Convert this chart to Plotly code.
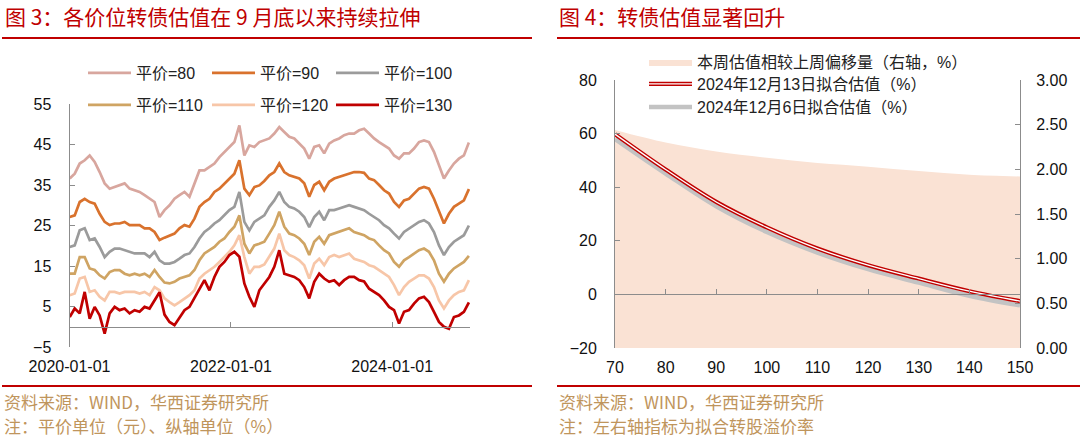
import plotly.graph_objects as go
import pandas as pd

W, H = 1080, 437

# ---------------- Left chart data (平价分档转股溢价率, %) ----------------
dates = pd.date_range("2020-01-02", "2024-12-13", periods=81)

p80 = [36.6, 37.8, 40.3, 41.1, 42.3, 40.7, 38.2, 35.4, 34.1, 34.5, 34.9, 35.4, 34.1, 33.7, 33.3, 32.5, 31.6, 30.8, 27.1,
       28.8,
       30.0, 31.6, 32.5, 33.3, 32.1, 35.4, 38.6, 38.6, 39.5, 40.3, 41.9, 43.2, 44.4, 45.6, 49.7, 42.3, 44.8, 44.4, 45.6,
       46.0,
       46.5, 47.7, 49.3, 48.1, 46.9, 46.5, 45.2, 44.0, 41.5, 44.4, 44.8, 42.8, 45.2, 46.0, 46.5, 47.3, 47.7, 47.7, 48.5,
       48.9,
       47.7, 46.5, 45.6, 44.8, 44.0, 42.3, 41.5, 42.8, 42.8, 44.0, 45.6, 46.0, 45.6, 43.2, 39.9, 36.6, 38.6, 40.3, 41.5, 42.3, 45.5]

p90 = [27.1, 27.5, 30.8, 31.6, 30.8, 30.4, 27.9, 25.9, 25.1, 25.5, 25.5, 25.9, 25.1, 25.1, 25.1, 24.3, 24.3, 23.4, 21.4,
       22.0,
       22.6, 23.0, 24.3, 25.1, 24.7, 26.7, 29.6, 30.8, 31.6, 33.3, 34.1, 35.4, 36.6, 37.8, 41.1, 34.1, 32.5, 34.5, 34.9,
       36.0,
       37.4, 38.2, 40.3, 38.2, 37.4, 37.0, 36.6, 35.4, 32.1, 35.0, 35.8, 33.7, 35.8, 36.6, 37.0, 37.4, 37.8, 38.2, 38.2,
       38.0,
       36.6, 36.2, 35.0, 33.7, 32.9, 30.8, 29.6, 31.2, 31.6, 32.9, 34.1, 34.5, 34.1, 31.6, 28.4, 25.5, 27.9, 29.6, 30.4, 31.2, 34.0]

p100 = [19.7, 20.1, 23.8, 24.3, 21.4, 21.8, 19.7, 17.2, 18.5, 19.3, 19.3, 18.9, 18.5, 18.1, 18.1, 18.1, 17.2, 18.5, 16.4,
        15.6,
        15.6, 16.0, 16.8, 17.7, 18.1, 19.7, 21.8, 23.4, 24.3, 25.5, 26.3, 27.5, 28.8, 29.6, 33.3, 25.9, 23.8, 25.9, 26.7,
        27.5,
        29.6, 31.2, 33.3, 30.8, 29.6, 29.2, 28.4, 27.1, 24.6, 27.1, 28.4, 26.3, 28.8, 28.8, 29.2, 29.6, 30.0, 29.6, 29.2,
        28.8,
        27.9, 27.1, 26.3, 25.1, 24.3, 23.0, 21.8, 23.4, 24.3, 25.1, 25.9, 26.3, 25.5, 23.4, 20.1, 17.7, 19.7, 21.0, 21.8, 22.6, 25.0]

p110 = [13.1, 13.1, 17.2, 17.2, 14.4, 14.0, 12.7, 11.9, 13.5, 14.0, 14.0, 13.1, 12.7, 13.1, 12.7, 13.1, 12.3, 14.0, 12.3,
        10.9,
        10.7, 11.1, 11.9, 12.3, 12.7, 14.0, 16.4, 18.1, 18.9, 19.7, 21.0, 21.8, 23.4, 24.7, 27.5, 20.5, 18.1, 20.1, 20.5,
        21.0,
        23.0, 25.1, 28.4, 24.7, 23.0, 22.6, 21.8, 20.5, 17.7, 21.0, 22.2, 20.5, 22.6, 23.0, 23.4, 23.8, 24.3, 23.4, 23.0,
        22.6,
        21.8, 21.4, 20.1, 18.9, 18.1, 16.0, 14.8, 16.4, 17.2, 18.1, 18.9, 19.3, 18.5, 16.4, 13.1, 11.1, 13.1, 14.4, 15.2, 16.0, 17.5]

p120 = [7.8, 8.2, 11.9, 12.3, 8.6, 9.0, 7.4, 6.5, 8.6, 8.6, 8.2, 8.6, 8.6, 8.6, 8.2, 8.6, 7.8, 9.8, 9.0,
        7.0,
        6.1, 5.3, 6.1, 7.0, 7.8, 9.0, 11.9, 13.1, 14.0, 14.8, 16.0, 17.2, 18.5, 20.1, 22.6, 17.2, 13.1, 14.8, 14.8,
        15.4,
        17.2, 19.3, 23.0, 18.9, 17.7, 17.2, 16.4, 15.2, 11.9, 15.6, 16.8, 15.2, 17.2, 17.7, 17.2, 17.7, 18.1, 16.8, 16.4,
        16.0,
        15.2, 14.8, 14.0, 13.1, 12.3, 10.3, 7.8, 9.8, 11.1, 11.9, 12.7, 12.7, 11.9, 9.8, 6.5, 4.5, 6.5, 7.8, 8.6, 9.0, 11.5]

p130 = [2.4, 4.5, 3.3, 8.6, 2.0, 4.9, 2.8, -1.7, 3.3, 4.9, 4.1, 4.5, 3.3, 4.1, 3.7, 4.9, 4.5, 6.5, 8.5,
        3.0,
        1.2, 0.4, 2.4, 4.1, 4.9, 7.0, 9.4, 11.5, 9.0, 12.3, 14.8, 16.0, 17.7, 18.5, 17.3, 10.7, 7.4, 4.9, 9.0,
        10.7,
        12.3, 14.8, 18.9, 13.1, 12.7, 12.3, 11.5, 9.8, 7.0, 11.1, 13.1, 11.9, 11.1, 11.5, 10.3, 11.5, 12.3, 12.3, 11.5,
        11.2,
        9.4, 8.6, 7.8, 6.5, 4.9, 4.1, 0.8, 3.7, 4.1, 5.7, 7.0, 7.4, 6.1, 3.7, 1.2, 0.0, -0.5, 2.4, 2.8, 3.7, 6.0]

left_names = ["平价=80", "平价=90", "平价=100", "平价=110", "平价=120", "平价=130"]
left_series = [p80, p90, p100, p110, p120, p130]
left_colors = ["#D8A69E", "#D9722D", "#9B9B9B", "#CFA463", "#F7C6A8", "#C00000"]

left_yticks = [-5, 5, 15, 25, 35, 45, 55]
left_xticks = ["2020-01-01", "2022-01-01", "2024-01-01"]

# ---------------- Right chart data ----------------
parity = [70, 80, 90, 100, 110, 120, 130, 140, 150]
fit_1213 = [59.8, 46.6, 34.5, 25.0, 17.1, 10.9, 5.9, 1.2, -2.5]
fit_1206 = [58.0, 45.1, 32.9, 23.3, 15.6, 9.4, 4.4, -0.5, -4.1]
shift = [2.44, 2.30, 2.20, 2.13, 2.07, 2.03, 1.98, 1.94, 1.92]

right_xticks = [70, 80, 90, 100, 110, 120, 130, 140, 150]
right_yticks = [-20, 0, 20, 40, 60, 80]
right_y2ticks = [0.0, 0.5, 1.0, 1.5, 2.0, 2.5, 3.0]

# ---------------- helpers for layout geometry ----------------
def fx(px):
    return px / W

def fy(py):
    return 1 - py / H

FONT = "Liberation Sans, Arial, Noto Sans CJK SC, sans-serif"
CJK = "Noto Sans CJK SC, sans-serif"
AXC = "#8C8C8C"
RED = "#C00000"
TAN = "#BF955C"
NAME_1213 = "2024年12月13日拟合估值（%）"

fig = go.Figure()

# ----- left chart traces -----
for i, (nm, s, c) in enumerate(zip(left_names, left_series, left_colors)):
    fig.add_trace(go.Scatter(
        x=dates, y=s, name=nm, mode="lines",
        line=dict(color=c, width=2.7),
        xaxis="x", yaxis="y",
        legend="legend" if i < 3 else "legend2",
    ))
# carrier for the zero-line axis (no visible mark)
fig.add_trace(go.Scatter(x=[dates[0]], y=[None], mode="lines", showlegend=False,
                         xaxis="x3", yaxis="y", hoverinfo="skip"))

# ----- right chart traces -----
fig.add_trace(go.Scatter(
    x=parity, y=shift, name="本周估值相较上周偏移量（右轴，%）",
    mode="lines", line=dict(width=0, shape="spline", color="#FAE2D4"),
    fill="tozeroy", fillcolor="#FAE2D4",
    xaxis="x2", yaxis="y2", legend="legend3",
))
fig.add_trace(go.Scatter(
    x=parity, y=fit_1206, name="2024年12月6日拟合估值（%）",
    mode="lines", line=dict(width=4.5, shape="spline", color="#C3C3C3"),
    xaxis="x2", yaxis="y3", legend="legend5",
))
fig.add_trace(go.Scatter(
    x=parity, y=fit_1213, name=NAME_1213,
    mode="lines", line=dict(width=4.2, shape="spline", color=RED),
    xaxis="x2", yaxis="y3", legend="legend4",
))
fig.add_trace(go.Scatter(
    x=parity, y=fit_1213, name=NAME_1213, mode="lines",
    line=dict(width=1.3, shape="spline", color="#FFFFFF"),
    xaxis="x2", yaxis="y3", legend="legend6",
))
fig.add_trace(go.Scatter(x=[parity[0]], y=[None], mode="lines", showlegend=False,
                         xaxis="x4", yaxis="y3", hoverinfo="skip"))

# ----- geometry -----
L_x0, L_x1, L_top, L_bot = 69.5, 470, 104, 347
R_x0, R_x1, R_top, R_bot = 615, 1020, 80, 348
l_yr = [-5, 55]
r_yr = [-20, 80]
l_zero = fy(L_bot) + (0 - l_yr[0]) / (l_yr[1] - l_yr[0]) * (fy(L_top) - fy(L_bot))
r_zero = fy(R_bot) + (0 - r_yr[0]) / (r_yr[1] - r_yr[0]) * (fy(R_top) - fy(R_bot))
l_xrange = ["2020-01-01", "2024-12-18"]

tickfont = dict(family=FONT, size=16, color="#111111")
axline = dict(showline=True, linecolor=AXC, linewidth=1, ticks="inside", ticklen=5,
              tickcolor=AXC, showgrid=False, zeroline=False)

fig.update_layout(
    width=W, height=H, margin=dict(l=0, r=0, t=0, b=0, autoexpand=False),
    paper_bgcolor="white", plot_bgcolor="rgba(0,0,0,0)",
    font=dict(family=FONT, size=16, color="#111111"),
    hovermode=False,
    xaxis=dict(domain=[fx(L_x0), fx(L_x1)], anchor="y", type="date", range=l_xrange,
               tickvals=left_xticks, ticktext=left_xticks, showline=False, ticks="",
               showgrid=False, zeroline=False, tickfont=tickfont, ticklabelstandoff=8),
    yaxis=dict(domain=[fy(L_bot), fy(L_top)], anchor="x", range=l_yr, tickvals=left_yticks,
               tickfont=tickfont, ticklabelstandoff=14, **axline),
    xaxis3=dict(overlaying="x", anchor="free", position=l_zero, type="date", range=l_xrange,
                tickvals=left_xticks[1:], showticklabels=False, **axline),
    xaxis2=dict(domain=[fx(R_x0), fx(R_x1)], anchor="y2", range=[70, 150], tickvals=right_xticks,
                showline=False, ticks="", showgrid=False, zeroline=False, tickfont=tickfont,
                ticklabelstandoff=8),
    yaxis2=dict(domain=[fy(R_bot), fy(R_top)], anchor="x2", side="right", range=[0, 3],
                tickvals=right_y2ticks, tickformat=".2f", tickfont=tickfont,
                ticklabelstandoff=12, **axline),
    yaxis3=dict(overlaying="y2", anchor="x2", side="left", range=r_yr, tickvals=right_yticks,
                tickfont=tickfont, ticklabelstandoff=14, **axline),
    xaxis4=dict(overlaying="x2", anchor="free", position=r_zero, range=[70, 150],
                tickvals=right_xticks[1:-1], showticklabels=False, **axline),
)

leg_common = dict(bgcolor="rgba(0,0,0,0)", xanchor="left", yanchor="middle",
                  itemwidth=43, borderwidth=0)
lfont = dict(family=FONT, size=16, color="#222222")
fig.update_layout(
    legend=dict(orientation="h", x=fx(83), y=fy(73), entrywidth=66, entrywidthmode="pixels",
                font=lfont, **leg_common),
    legend2=dict(orientation="h", x=fx(83), y=fy(105), entrywidth=66, entrywidthmode="pixels",
                 font=lfont, **leg_common),
    legend3=dict(x=fx(644), y=fy(62), font=lfont, **leg_common),
    legend4=dict(x=fx(644), y=fy(84), font=lfont, **leg_common),
    legend5=dict(x=fx(644), y=fy(107), font=lfont, **leg_common),
    legend6=dict(x=fx(644), y=fy(84), font=dict(family=FONT, size=16, color="rgba(0,0,0,0)"),
                 **leg_common),
)

# ----- titles, rules, footers -----
def rule(x0, x1, y):
    return dict(type="line", xref="paper", yref="paper", x0=fx(x0), x1=fx(x1), y0=fy(y), y1=fy(y),
                line=dict(color=RED, width=2))

fig.update_layout(shapes=[rule(2, 532, 38), rule(557, 1080, 38), rule(2, 532, 386), rule(557, 1080, 386)])

def txt(x, y, s, size, color):
    fig.add_annotation(x=fx(x), y=fy(y), xref="paper", yref="paper", text=s, showarrow=False,
                       xanchor="left", yanchor="middle", font=dict(family=CJK, size=size, color=color))

txt(3, 16, "图 3：各价位转债估值在 9 月底以来持续拉伸", 21, RED)
txt(557, 16, "图 4：转债估值显著回升", 21, RED)
txt(2, 401, "资料来源：WIND，华西证券研究所", 17, TAN)
txt(2, 425, "注：平价单位（元）、纵轴单位（%）", 17, TAN)
txt(557, 401, "资料来源：WIND，华西证券研究所", 17, TAN)
txt(557, 425, "注：左右轴指标为拟合转股溢价率", 17, TAN)

fig.write_html("out.html", post_script="document.body.style.margin='0px';",
               config={"displayModeBar": False})
